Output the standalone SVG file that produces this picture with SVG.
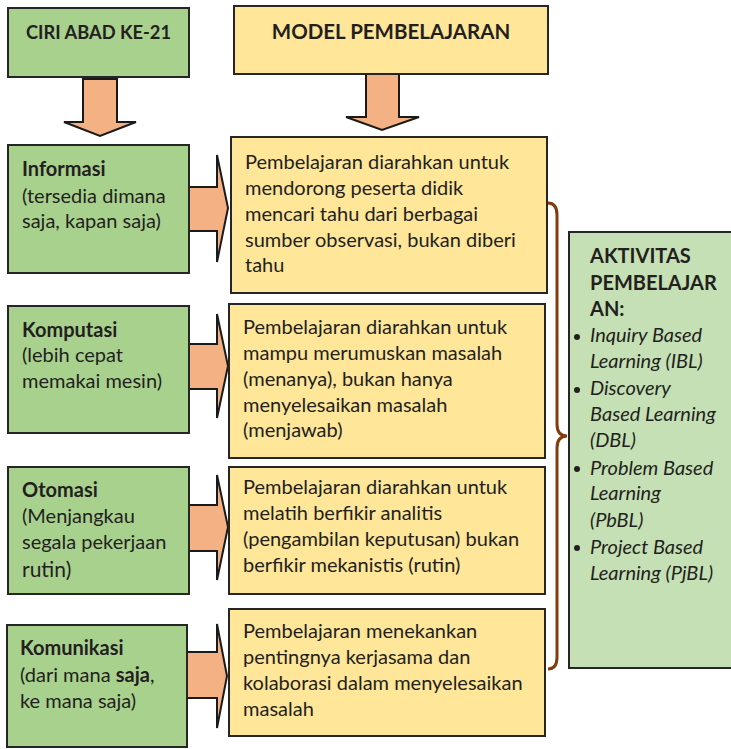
<svg xmlns="http://www.w3.org/2000/svg" width="731" height="749" viewBox="0 0 731 749">
<style>
.t{font-family:Lato,"Liberation Sans",sans-serif;font-size:20px;fill:#231F20}
.b{font-weight:bold}
.i{font-style:italic}
.h{font-family:Lato,"Liberation Sans",sans-serif;font-weight:bold;fill:#231F20}
.g{fill:#A9D18E;stroke:#262626;stroke-width:2}
.y{fill:#FFE699;stroke:#262626;stroke-width:2}
.lg{fill:#C5E0B4;stroke:#262626;stroke-width:2}
.ar{fill:#F4B183;stroke:#1a1a1a;stroke-width:2;stroke-linejoin:miter}
.br{fill:none;stroke:#843C0C;stroke-width:3}
</style>
<rect width="731" height="749" fill="#ffffff"/>
<g id="connectors">
<polygon class="ar" points="83,79 117,79 117,122 136,122 100,136 64,122 83,122"/>
<polygon class="ar" points="366,74 399,74 399,117 419,117 382,130 346,117 366,117"/>
<polygon class="ar" points="189,187 217,187 217,155 228,208 217,262 217,231 189,231"/>
<polygon class="ar" points="189,344 217,344 217,314 228,366 217,418 217,389 189,389"/>
<polygon class="ar" points="189,505 217,505 217,475 228,527 217,580 217,551 189,551"/>
<polygon class="ar" points="187,652 217,652 217,624 227,676 217,728 217,698 187,698"/>
<path class="br" d="M548,203 Q557,203 557,215 L557,424 Q557,436 567,436 Q557,436 557,448 L557,657 Q557,669 548,669"/>
</g>
<g id="ciri">
<rect class="g" x="8" y="8" width="181" height="69"/>
<text class="h" x="98.5" y="39" text-anchor="middle" style="font-size:18.3px">CIRI ABAD KE-21</text>
</g>
<g id="model">
<rect class="y" x="234" y="6" width="314" height="68"/>
<text class="h" x="391" y="39" text-anchor="middle" style="font-size:20.5px">MODEL PEMBELAJARAN</text>
</g>
<g id="informasi">
<rect class="g" x="8" y="145" width="181" height="128"/>
<text class="t"><tspan class="b" x="22" y="176">Informasi</tspan><tspan x="22" y="203">(tersedia dimana</tspan><tspan x="22" y="228">saja, kapan saja)</tspan></text>
</g>
<g id="komputasi">
<rect class="g" x="8" y="306" width="181" height="127"/>
<text class="t"><tspan class="b" x="22" y="337">Komputasi</tspan><tspan x="22" y="362">(lebih cepat</tspan><tspan x="22" y="388">memakai mesin)</tspan></text>
</g>
<g id="otomasi">
<rect class="g" x="8" y="467" width="181" height="127"/>
<text class="t"><tspan class="b" x="22" y="497">Otomasi</tspan><tspan x="22" y="523">(Menjangkau</tspan><tspan x="22" y="549">segala pekerjaan</tspan><tspan x="22" y="577" style="font-size:21px">rutin)</tspan></text>
</g>
<g id="komunikasi">
<rect class="g" x="7" y="625" width="180" height="122"/>
<text class="t"><tspan class="b" x="20" y="655">Komunikasi</tspan><tspan x="20" y="682">(dari mana <tspan class="b">saja</tspan>,</tspan><tspan x="20" y="708">ke mana saja)</tspan></text>
</g>
<g id="model1">
<rect class="y" x="231" y="137" width="316" height="156"/>
<text class="t"><tspan x="245" y="169">Pembelajaran diarahkan untuk</tspan><tspan x="245" y="195">mendorong peserta didik</tspan><tspan x="245" y="221">mencari tahu dari berbagai</tspan><tspan x="245" y="247">sumber observasi, bukan diberi</tspan><tspan x="245" y="272">tahu</tspan></text>
</g>
<g id="model2">
<rect class="y" x="229" y="304" width="316" height="154"/>
<text class="t"><tspan x="243" y="334">Pembelajaran diarahkan untuk</tspan><tspan x="243" y="360">mampu merumuskan masalah</tspan><tspan x="243" y="386">(menanya), bukan hanya</tspan><tspan x="243" y="412">menyelesaikan masalah</tspan><tspan x="243" y="437">(menjawab)</tspan></text>
</g>
<g id="model3">
<rect class="y" x="229" y="467" width="316" height="127"/>
<text class="t"><tspan x="243" y="494">Pembelajaran diarahkan untuk</tspan><tspan x="243" y="520">melatih berfikir analitis</tspan><tspan x="243" y="546">(pengambilan keputusan) bukan</tspan><tspan x="243" y="572">berfikir mekanistis (rutin)</tspan></text>
</g>
<g id="model4">
<rect class="y" x="229" y="609" width="316" height="127"/>
<text class="t"><tspan x="243" y="638">Pembelajaran menekankan</tspan><tspan x="243" y="664">pentingnya kerjasama dan</tspan><tspan x="243" y="690">kolaborasi dalam menyelesaikan</tspan><tspan x="243" y="716">masalah</tspan></text>
</g>
<g id="aktivitas">
<rect class="lg" x="569" y="232" width="172" height="436"/>
<text class="t b"><tspan x="590" y="263">AKTIVITAS</tspan><tspan x="590" y="290">PEMBELAJAR</tspan><tspan x="590" y="316">AN:</tspan></text>
<g fill="#231F20"><circle cx="577" cy="337" r="3"/><circle cx="577" cy="390" r="3"/><circle cx="577" cy="469" r="3"/><circle cx="577" cy="548" r="3"/></g>
<text class="t i"><tspan x="590" y="342">Inquiry Based</tspan><tspan x="590" y="368">Learning (IBL)</tspan><tspan x="590" y="395">Discovery</tspan><tspan x="590" y="421">Based Learning</tspan><tspan x="590" y="447">(DBL)</tspan><tspan x="590" y="475">Problem Based</tspan><tspan x="590" y="500">Learning</tspan><tspan x="590" y="527">(PbBL)</tspan><tspan x="590" y="554">Project Based</tspan><tspan x="590" y="580">Learning (PjBL)</tspan></text>
</g>
</svg>
